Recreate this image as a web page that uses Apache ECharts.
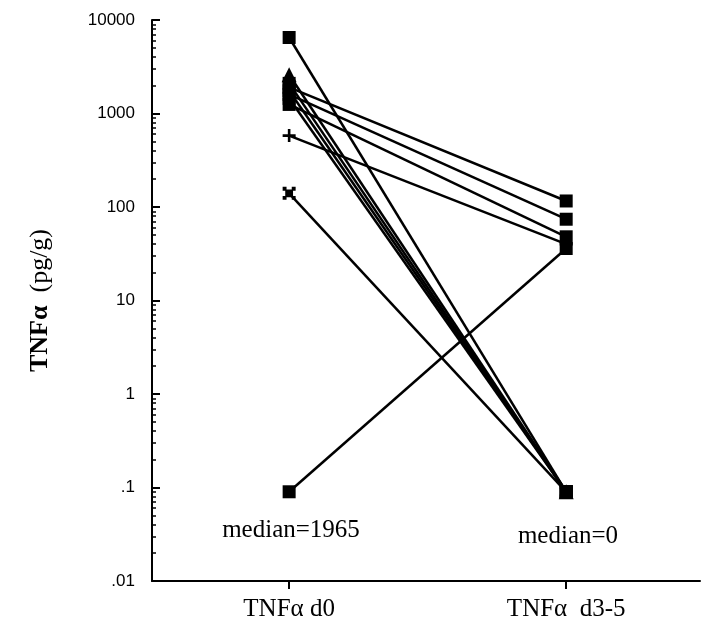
<!DOCTYPE html>
<html>
<head>
<meta charset="utf-8">
<script src="https://cdn.jsdelivr.net/npm/echarts@6/dist/echarts.min.js"></script>
<style>
    html, body { margin: 0; padding: 0; background: #fff; }
    #chart { width: 706px; height: 632px; }
</style>
</head>
<body>
<div id="chart"></div>
<script>
// 两个时间点
var xLabels = ['TNFα d0', 'TNFα  d3-5'];
// 每个病人 d0 和 d3-5 的值（0 画在 .09）
var d0Values = [6500, 2600, 2100, 1900, 1750, 1600, 1450, 1250, 580, 140, 0.09];
var d35Values = [0.09, 0.09, 0.09, 116, 0.09, 74, 0.09, 48, 40, 0.09, 36];
var markerTypes = ['rect', 'triangle', 'rect', 'rect', 'rect', 'rect', 'rect', 'rect', 'plus', 'xsq', 'rect'];
var yTickLabels = {'10000': '10000', '1000': '1000', '100': '100', '10': '10', '1': '1', '0.1': '.1', '0.01': '.01'};
var medianTexts = ['median=1965', 'median=0'];

var symbolPaths = {
    rect: 'rect',
    triangle: 'triangle',
    plus: 'path://M4,0H6V4H10V6H6V10H4V6H0V4H4Z',
    xsq: 'path://M0,0H3V2H7V0H10V3H8V7H10V10H7V8H3V10H0V7H2V3H0Z'
};

// 对数轴的次刻度 2..9
var minorTicks = [];
for (var e = -2; e < 4; e++) {
    for (var k = 2; k <= 9; k++) {
        minorTicks.push(k * Math.pow(10, e));
    }
}

var series = d0Values.map(function (v, i) {
    return {
        type: 'line',
        data: [[0, v], [1, d35Values[i]]],
        symbol: symbolPaths[markerTypes[i]],
        symbolSize: markerTypes[i] == 'triangle' ? 15 : 13,
        lineStyle: { color: '#000', width: 2.5 },
        itemStyle: { color: '#000' },
        animation: false,
        z: 3
    };
});

var myChart = echarts.init(document.getElementById('chart'));
myChart.setOption({
    backgroundColor: '#fff',
    grid: { left: 152, right: 6, top: 20, bottom: 51 },
    xAxis: {
        type: 'value',
        min: -0.495,
        max: 1.483,
        splitLine: { show: false },
        axisLine: { onZero: false, lineStyle: { color: '#000', width: 2 } },
        axisTick: { customValues: [0, 1], length: 8, lineStyle: { color: '#000', width: 2 } },
        axisLabel: {
            customValues: [0, 1],
            margin: 16,
            color: '#000',
            fontFamily: 'Liberation Serif',
            fontSize: 25,
            formatter: function (v) { return xLabels[Math.round(v)]; }
        }
    },
    yAxis: [{
        type: 'log',
        logBase: 10,
        min: 0.01,
        max: 10000,
        splitLine: { show: false },
        axisLine: { onZero: false, lineStyle: { color: '#000', width: 2 } },
        axisTick: { inside: true, length: 8, lineStyle: { color: '#000', width: 2 } },
        axisLabel: {
            margin: 17,
            color: '#000',
            fontFamily: 'Liberation Sans',
            fontSize: 17,
            formatter: function (v) {
                var key = String(+v.toPrecision(3));
                return yTickLabels[key] != null ? yTickLabels[key] : '';
            }
        },
        name: '{b|TNFα}  (pg/g)',
        nameLocation: 'middle',
        nameGap: 99,
        nameRotate: 90,
        nameTextStyle: {
            color: '#000',
            fontFamily: 'Liberation Serif',
            fontSize: 26,
            rich: { b: { fontWeight: 'bold', fontFamily: 'Liberation Serif', fontSize: 26, color: '#000' } }
        }
    }, {
        type: 'log',
        logBase: 10,
        min: 0.01,
        max: 10000,
        position: 'left',
        splitLine: { show: false },
        axisLine: { show: false, onZero: false },
        axisLabel: { show: false },
        axisTick: { inside: true, length: 4, customValues: minorTicks, lineStyle: { color: '#000', width: 1.5 } }
    }],
    graphic: [
        { type: 'text', x: 291, y: 530, style: { text: medianTexts[0], font: '25px "Liberation Serif"', fill: '#000', align: 'center', verticalAlign: 'middle' } },
        { type: 'text', x: 568, y: 536, style: { text: medianTexts[1], font: '25px "Liberation Serif"', fill: '#000', align: 'center', verticalAlign: 'middle' } }
    ],
    series: series
});
</script>
</body>
</html>
